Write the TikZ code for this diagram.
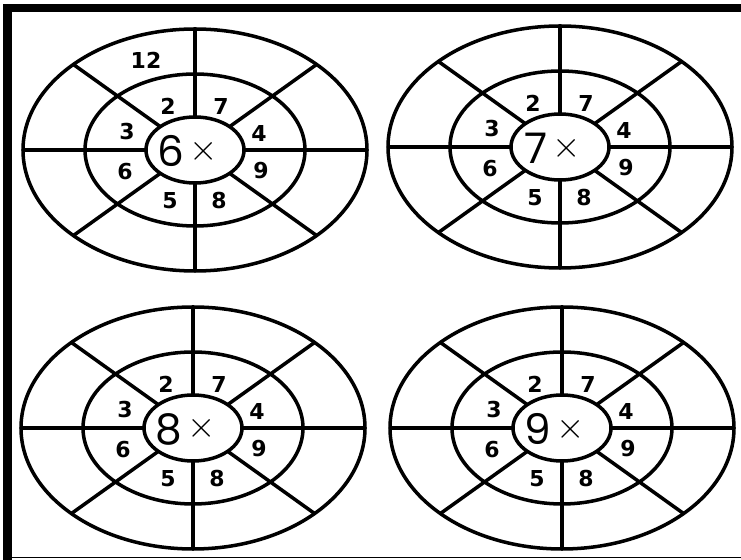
\documentclass[tikz,border=0pt]{standalone}
\usepackage{fontspec}
\setmainfont{DejaVu Sans}
\newfontfamily\wheelfont{Poppins}
\usepackage{tikz}
\usetikzlibrary{calc}

\begin{document}
\begin{tikzpicture}[
        x=0.02cm, y=-0.02cm,
        ring/.style = {draw=black, line width=2pt},
        spoke/.style = {draw=black, line width=2pt},
        factor/.style = {inner sep=0pt, font=\fontsize{12.5}{12.5}\selectfont\bfseries},
        center/.style = {inner sep=0pt, font=\wheelfont\fontsize{24}{24}\selectfont},
        frame/.style = {fill=black, draw=none}
    ]

        \useasboundingbox (0,0) rectangle (741,560);

        % === Frame ===
        \fill[frame] (3,4) rectangle (741,12);
        \fill[frame] (3,4) rectangle (12,560);
        \draw[black, line width=0.8pt] (12,557.5) -- (741,557.5);

        % === Wheels ===
        \foreach \cx/\cy/\k in {195/150/6, 560/147/7, 193/428/8, 562/428/9} {
            \begin{scope}[shift={(\cx,\cy)}]
                \coordinate (c\k) at (0,0);
                \draw[ring] (c\k) ellipse [x radius=172, y radius=121];
                \draw[ring] (c\k) ellipse [x radius=110, y radius=76];
                \draw[ring] (c\k) ellipse [x radius=49, y radius=33];
                \foreach \a in {0,45,...,315}
                    \draw[spoke] (\a:49 and 33) -- (\a:172 and 121);
                \node[center] (mul\k) at (-7,1)
                    {\k\hspace{3pt}\raisebox{3.5pt}{\fontsize{21}{21}\selectfont$\times$}};
                \foreach \n/\dx/\dy in {2/-27/-44, 7/26/-44, 3/-68/-18, 4/64/-17,
                                        6/-70/22, 9/66/21, 5/-25/51, 8/24/51}
                    \node[factor] (w\k-\n) at (\dx,\dy) {\n};
            \end{scope}
        }

        % answer already filled in
        \node[factor] (w6-12) at ($(c6)+(-49,-90)$) {12};

    \end{tikzpicture}
\end{document}
